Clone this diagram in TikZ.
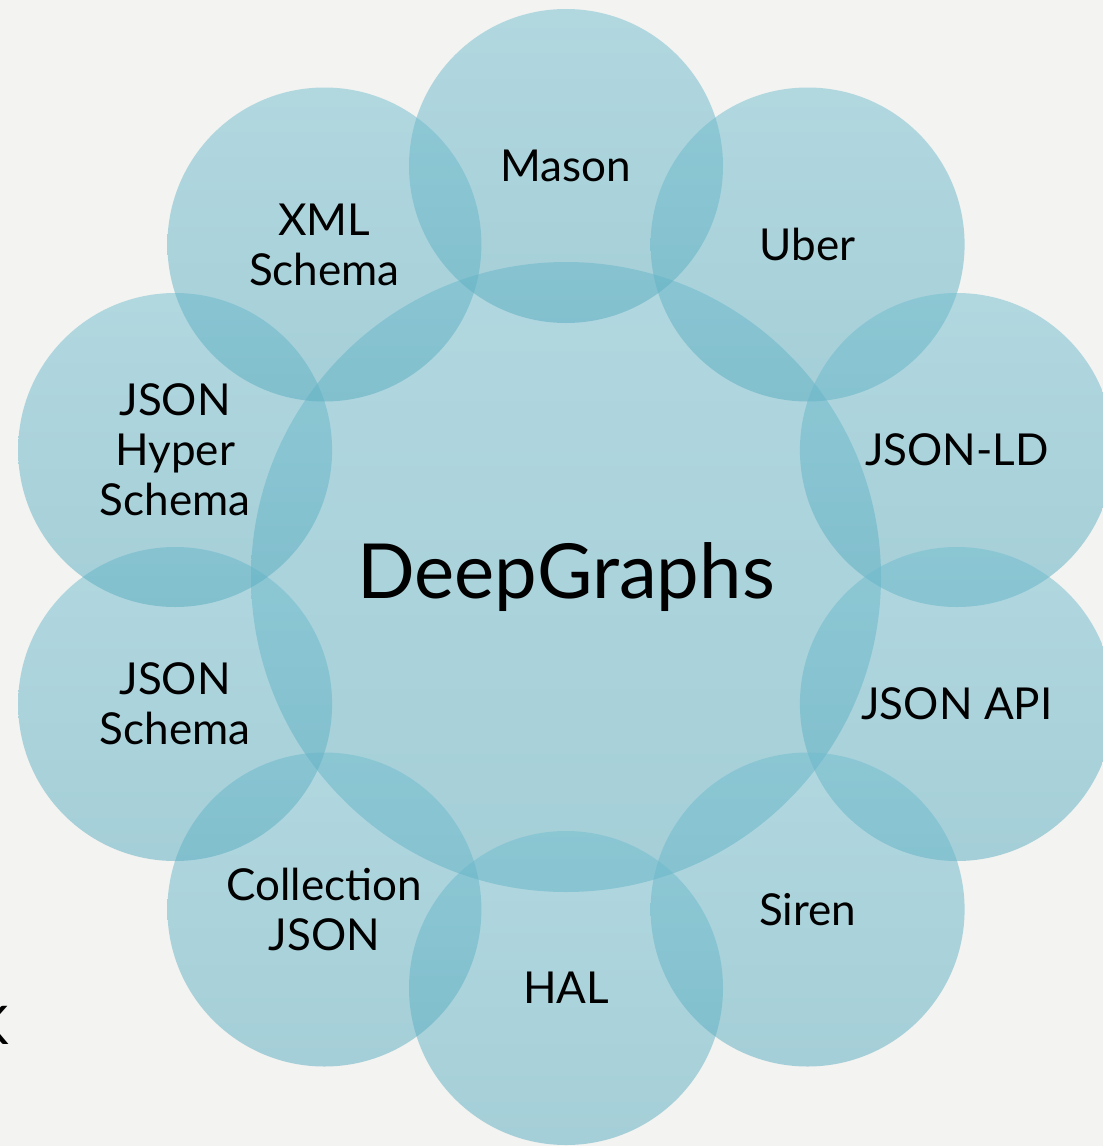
\documentclass[tikz,border=0pt]{standalone}
\usepackage{fontspec}
\setmainfont{Lato}
\definecolor{bg}{RGB}{243,243,241}
\definecolor{ctop}{RGB}{113,189,207}
\definecolor{cbot}{RGB}{88,172,192}
\begin{document}
\begin{tikzpicture}[x=0.75pt,y=-0.75pt,
  bubble/.style={circle,inner sep=0pt,minimum size=314*0.75pt,top color=ctop,bottom color=cbot,
    fill opacity=0.5,text opacity=1,align=center,font=\fontsize{33}{37.5}\selectfont},
  hub/.style={circle,inner sep=0pt,minimum size=630*0.75pt,top color=ctop,bottom color=cbot,
    fill opacity=0.5,text opacity=1,font=\fontsize{57}{64}\selectfont}]
\fill[bg] (0,0) rectangle (1103,1146);
\useasboundingbox (0,0) rectangle (1103,1146);
\node[hub] (hub) at (566,577) {DeepGraphs};
\node[bubble] (mason) at (566,166) {Mason};
\node[bubble] (uber) at (807.6,244.5) {Uber};
\node[bubble] (jsonld) at (956.9,450) {JSON-LD};
\node[bubble] (jsonapi) at (956.9,704) {JSON API};
\node[bubble] (siren) at (807.6,909.5) {Siren};
\node[bubble] (hal) at (566,988) {HAL};
\node[bubble] (coll) at (324.4,909.5) {Collection\\JSON};
\node[bubble] (jschema) at (175.1,704) {JSON\\Schema};
\node[bubble] (jhyper) at (175.1,450) {JSON\\Hyper\\Schema};
\node[bubble] (xml) at (324.4,244.5) {XML\\Schema};
\node[anchor=east,inner sep=0pt,font=\fontsize{40}{44}\selectfont] (k) at (9,1025) {K};
\end{tikzpicture}
\end{document}
